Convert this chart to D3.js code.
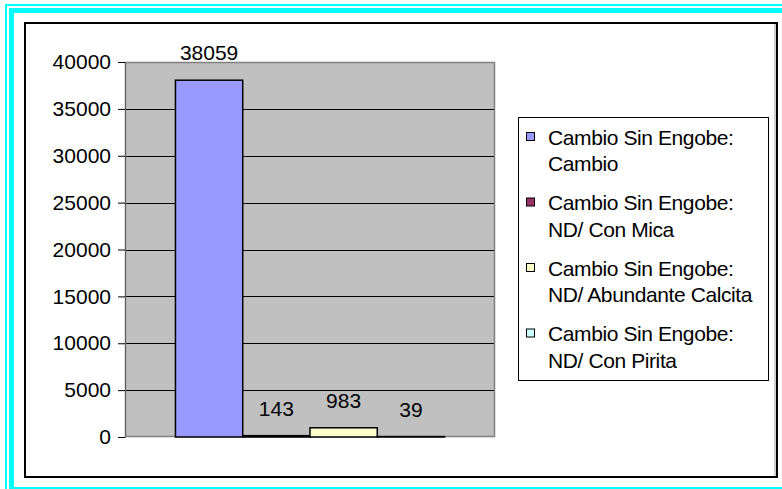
<!DOCTYPE html>
<html>
<head>
<meta charset="utf-8">
<script src="https://cdn.jsdelivr.net/npm/d3@7"></script>
<style>
  body { margin: 0; background: #fff; }
  svg { display: block; font-family: "Liberation Sans", Arial, sans-serif; }
</style>
</head>
<body>
<svg id="chart" width="782" height="489"></svg>
<script>
// data
const seriesNames = [
  ["Cambio Sin Engobe:", "Cambio"],
  ["Cambio Sin Engobe:", "ND/ Con Mica"],
  ["Cambio Sin Engobe:", "ND/ Abundante Calcita"],
  ["Cambio Sin Engobe:", "ND/ Con Pirita"]
];
const seriesKeys = ["s1", "s2", "s3", "s4"];
const values = [38059, 143, 983, 39];
const colors = ["#9999ff", "#993366", "#ffffcc", "#ccffff"];
const yTicks = [0, 5000, 10000, 15000, 20000, 25000, 30000, 35000, 40000];

const W = 782, H = 489;
const plot = {left: 125, right: 495, top: 62, bottom: 437};
const fontSize = 21;

const svg = d3.select('#chart');

// page frame: cyan double border + black box
svg.append('rect')
  .attr('x', 6).attr('y', 5).attr('width', W + 20).attr('height', H + 20)
  .attr('fill', 'none').attr('stroke', '#00ffff').attr('stroke-width', 2);
svg.append('rect')
  .attr('x', 11.5).attr('y', 10.5).attr('width', W + 10).attr('height', 479)
  .attr('fill', 'none').attr('stroke', '#00ffff').attr('stroke-width', 5);
svg.append('rect')
  .attr('x', 25).attr('y', 23).attr('width', 752).attr('height', 454)
  .attr('fill', '#fff').attr('stroke', '#000').attr('stroke-width', 2);
svg.append('line')
  .attr('x1', 775).attr('x2', 775).attr('y1', 24).attr('y2', 476)
  .attr('stroke', '#a0a0a0').attr('stroke-width', 1);

const x = d3.scaleBand()
  .domain(seriesKeys)
  .range([plot.left, plot.right])
  .paddingInner(0)
  .paddingOuter(0.75);

const y = d3.scaleLinear()
  .domain([0, 40000])
  .range([plot.bottom, plot.top]);

// plot area
svg.append('rect')
  .attr('x', plot.left).attr('y', plot.top)
  .attr('width', plot.right - plot.left).attr('height', plot.bottom - plot.top)
  .attr('fill', '#c0c0c0');

// grid lines
svg.append('g').attr('id', 'grid')
  .selectAll('line')
  .data(yTicks.filter(d => d > 0 && d < 40000))
  .join('line')
    .attr('x1', plot.left).attr('x2', plot.right)
    .attr('y1', d => Math.round(y(d)) + 0.5).attr('y2', d => Math.round(y(d)) + 0.5)
    .attr('stroke', '#000').attr('stroke-width', 1);

// plot border
svg.append('rect')
  .attr('x', plot.left + 0.5).attr('y', plot.top + 0.5)
  .attr('width', plot.right - plot.left - 1).attr('height', plot.bottom - plot.top - 1)
  .attr('fill', 'none').attr('stroke', '#808080').attr('stroke-width', 1.5);

// bars
svg.append('g').attr('id', 'bars')
  .selectAll('rect')
  .data(values)
  .join('rect')
    .attr('x', (d, i) => x(seriesKeys[i]))
    .attr('y', d => y(d))
    .attr('width', x.bandwidth())
    .attr('height', d => y(0) - y(d))
    .attr('fill', (d, i) => colors[i])
    .attr('stroke', '#000').attr('stroke-width', 1.5);

// y axis
const yAxis = svg.append('g').attr('id', 'axis-y')
  .attr('transform', `translate(${plot.left},0)`)
  .call(d3.axisLeft(y).tickValues(yTicks).tickSize(7).tickPadding(7).tickFormat(d3.format('d')));
yAxis.select('.domain').attr('stroke', '#606060');
yAxis.selectAll('.tick line').attr('stroke', '#000');
yAxis.selectAll('.tick text')
  .attr('font-size', fontSize).attr('fill', '#000')
  .attr('font-family', '"Liberation Sans", Arial, sans-serif');

// value labels
svg.append('g').attr('id', 'labels')
  .selectAll('text')
  .data(values)
  .join('text')
    .text(d => d)
    .attr('x', (d, i) => x(seriesKeys[i]) + x.bandwidth() / 2)
    .attr('y', d => y(d) - 20)
    .attr('text-anchor', 'middle')
    .attr('font-size', fontSize)
    .attr('fill', '#000');

// legend
const leg = svg.append('g').attr('id', 'legend');
leg.append('rect')
  .attr('x', 518.5).attr('y', 117.5).attr('width', 250).attr('height', 263)
  .attr('fill', '#fff').attr('stroke', '#000').attr('stroke-width', 1);

const item = leg.selectAll('g.item')
  .data(seriesNames)
  .join('g').attr('class', 'item')
  .attr('transform', (d, i) => `translate(0 ${137 + i * 65.5})`);
item.append('rect')
  .attr('x', 526.5).attr('y', -4.5).attr('width', 8).attr('height', 8)
  .attr('fill', (d, i) => colors[i]).attr('stroke', '#000').attr('stroke-width', 1);
item.selectAll('text')
  .data(d => d)
  .join('text')
    .text(d => d)
    .attr('x', 548)
    .attr('y', (d, i) => 7.5 + i * 26.5)
    .attr('font-size', fontSize)
    .attr('letter-spacing', -0.4)
    .attr('fill', '#000');
</script>
</body>
</html>
